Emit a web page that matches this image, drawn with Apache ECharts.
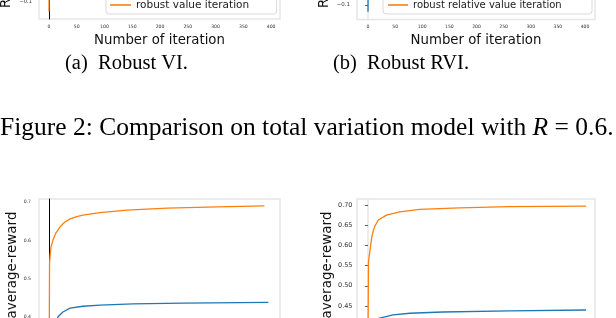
<!DOCTYPE html>
<html><head><meta charset="utf-8">
<script src="https://cdn.jsdelivr.net/npm/echarts@6/dist/echarts.min.js"></script>
<style>html,body{margin:0;padding:0;background:#fff}#c{width:616px;height:318px}</style>
</head><body><div id="c"></div><script>
// ---------- data ----------
const xTickValues = [0, 50, 100, 150, 200, 250, 300, 350, 400];

// (a) Robust VI (top row, only the lowest part is visible)
const topA_iter = [0, 1, 3, 6, 10, 20, 40, 80, 150, 250, 396];
const topA_nonrobust = [0.02, 0.30, 0.50, 0.62, 0.70, 0.78, 0.84, 0.88, 0.90, 0.91, 0.91];
const topA_robust = [-0.124, 0.36, 0.55, 0.66, 0.74, 0.82, 0.88, 0.92, 0.94, 0.95, 0.95];
const topA_yTicks = [-0.1];
const topA_legend = ['non-robust value iteration', 'robust value iteration'];

// (b) Robust RVI (top row)
const topB_iter = [0, 1, 3, 6, 10, 20, 40, 80, 150, 250, 398];
const topB_nonrobust = [-0.117, 0.30, 0.50, 0.62, 0.70, 0.78, 0.84, 0.88, 0.90, 0.91, 0.91];
const topB_robust = [0.02, 0.36, 0.55, 0.66, 0.74, 0.82, 0.88, 0.92, 0.94, 0.95, 0.95];
const topB_yTicks = [-0.1];
const topB_legend = ['non-robust relative value iteration', 'robust relative value iteration'];

// next figure, left panel (average-reward)
const botA_iterRobust = [0, 1, 2, 4, 7, 12, 20, 28, 38, 50, 61, 92, 140, 213, 303, 388];
const botA_robust = [0.20, 0.54, 0.56, 0.585, 0.60, 0.618, 0.635, 0.647, 0.656, 0.662, 0.666, 0.672, 0.679, 0.684, 0.687, 0.690];
const botA_iterNonrobust = [0, 5, 10, 16, 25, 38, 61, 92, 151, 241, 395];
const botA_nonrobust = [0.05, 0.30, 0.37, 0.40, 0.413, 0.423, 0.428, 0.431, 0.434, 0.436, 0.438];
const botA_yTicks = [0.4, 0.5, 0.6, 0.7];

// next figure, right panel (average-reward)
const botB_iterRobust = [0, 1, 3, 5, 7, 10, 13, 19, 34, 58, 95, 168, 259, 400];
const botB_robust = [0.35, 0.56, 0.58, 0.60, 0.62, 0.638, 0.648, 0.663, 0.675, 0.683, 0.689, 0.693, 0.696, 0.697];
const botB_iterNonrobust = [0, 5, 10, 16, 46, 77, 137, 259, 400];
const botB_nonrobust = [0.10, 0.33, 0.39, 0.418, 0.428, 0.432, 0.435, 0.438, 0.440];
const botB_yTicks = [0.45, 0.50, 0.55, 0.60, 0.65, 0.70];

const captionA = ['(a)', 'Robust VI.'];
const captionB = ['(b)', 'Robust RVI.'];
const figCaption = ['Figure 2: Comparison on total variation model with ', 'R', ' = 0.6.'];
const topYName = 'Relative value';
const xName = 'Number of iteration';
const botYName = 'average-reward';

// ---------- chart ----------
const BLUE = '#1f77b4', ORANGE = '#ff7f0e', FRAME = '#e6e6e6';
const SANS = 'DejaVu Sans', SERIF = 'Liberation Serif';
const pairs = (xs, ys) => xs.map((x, i) => [x, ys[i]]);
const minus = v => String(+v.toFixed(2)).replace('-', '\u2212');

function gridCfg(left, top, width, height) {
  return { left, top, width, height, show: true, borderColor: FRAME, borderWidth: 1.5, backgroundColor: '#fff',
    containLabel: false, outerBoundsMode: 'none' };
}
function xAxisCfg(idx, min, max, showLabels) {
  return {
    type: 'value', gridIndex: idx, min, max,
    axisLine: { show: true, lineStyle: { color: FRAME, width: 1.5 } },
    axisTick: { show: false }, splitLine: { show: false },
    axisLabel: { show: showLabels, customValues: xTickValues, margin: 5, fontFamily: SANS, fontSize: 4.6, color: '#333' },
    name: showLabels ? xName : '', nameLocation: 'middle', nameGap: 13,
    nameTextStyle: { fontFamily: SANS, fontSize: 13.3, color: '#111' }
  };
}
function yAxisCfg(idx, min, max, ticks, opts) {
  return {
    type: 'value', gridIndex: idx, min, max,
    axisLine: { show: true, lineStyle: { color: opts.lineColor, width: opts.lineWidth } },
    axisTick: { show: opts.ticks, length: 3, customValues: ticks, lineStyle: { color: '#333', width: 0.8 } },
    splitLine: { show: false },
    axisLabel: { customValues: ticks, margin: opts.margin, fontFamily: SANS, fontSize: opts.fontSize, color: '#333',
      formatter: v => opts.fmt ? opts.fmt(v) : minus(v) },
    name: opts.name || '', nameLocation: 'middle', nameGap: opts.nameGap || 20,
    nameTextStyle: { fontFamily: SANS, fontSize: 13.5, color: '#111' }
  };
}
function lineSeries(name, xi, data, color) {
  return { type: 'line', name, xAxisIndex: xi, yAxisIndex: xi, data, symbol: 'none', clip: true,
    lineStyle: { color, width: 1.3 }, itemStyle: { color } };
}
function legendCfg(left, data, fontSize, padding, itemWidth) {
  return {
    orient: 'vertical', left, top: -20, padding, itemGap: 4, itemWidth, itemHeight: 1.6, icon: 'rect',
    borderColor: '#d9d9d9', borderWidth: 1, borderRadius: 3, backgroundColor: 'rgba(255,255,255,0.85)',
    textStyle: { fontFamily: SANS, fontSize, color: '#1a1a1a', lineHeight: 12 }, data
  };
}

// caption pieces laid out with measured widths
const mctx = document.createElement('canvas').getContext('2d');
const CAP_FS = 25.5;
mctx.font = CAP_FS + 'px "' + SERIF + '"';
const w0 = mctx.measureText(figCaption[0]).width;
mctx.font = 'italic ' + CAP_FS + 'px "' + SERIF + '"';
const w1 = mctx.measureText(figCaption[1]).width;
const CAP_Y = 128;

const chart = echarts.init(document.getElementById('c'), null, { renderer: 'canvas' });
chart.setOption({
  animation: false,
  backgroundColor: '#fff',
  grid: [
    gridCfg(39, -150, 241, 169),
    gridCfg(357, -150, 238, 169.5),
    gridCfg(39, 199, 241, 132),
    gridCfg(357, 199, 238, 132)
  ],
  xAxis: [
    xAxisCfg(0, -18, 416, true),
    xAxisCfg(1, -20.3, 418.4, true),
    xAxisCfg(2, -18, 416, false),
    xAxisCfg(3, -20.1, 416.4, false)
  ],
  yAxis: [
    yAxisCfg(0, -0.1425, 0.28, topA_yTicks, { lineColor: '#000', lineWidth: 1, ticks: false, margin: 7, fontSize: 5.2 }),
    yAxisCfg(1, -0.13625, 0.2875, topB_yTicks, { lineColor: FRAME, lineWidth: 1.5, ticks: true, margin: 7, fontSize: 5.5 }),
    yAxisCfg(2, 0.3634, 0.7078, botA_yTicks, { lineColor: '#000', lineWidth: 1, ticks: false, margin: 8, fontSize: 4.6,
      fmt: v => v.toFixed(1), name: botYName, nameGap: 20 }),
    yAxisCfg(3, 0.388, 0.71485, botB_yTicks, { lineColor: FRAME, lineWidth: 1.5, ticks: true, margin: 4.5, fontSize: 6.5,
      fmt: v => v.toFixed(2), name: botYName, nameGap: 23 })
  ],
  legend: [
    legendCfg(106, topA_legend, 10.5, [3, 4, 3, 4], 21),
    legendCfg(383, topB_legend, 10, [3, 8, 3, 5], 20)
  ],
  series: [
    lineSeries(topA_legend[0], 0, pairs(topA_iter, topA_nonrobust), BLUE),
    lineSeries(topA_legend[1], 0, pairs(topA_iter, topA_robust), ORANGE),
    lineSeries(topB_legend[0], 1, pairs(topB_iter, topB_nonrobust), BLUE),
    lineSeries(topB_legend[1], 1, pairs(topB_iter, topB_robust), ORANGE),
    lineSeries(topA_legend[0], 2, pairs(botA_iterNonrobust, botA_nonrobust), BLUE),
    lineSeries(topA_legend[1], 2, pairs(botA_iterRobust, botA_robust), ORANGE),
    lineSeries(topB_legend[0], 3, pairs(botB_iterNonrobust, botB_nonrobust), BLUE),
    lineSeries(topB_legend[1], 3, pairs(botB_iterRobust, botB_robust), ORANGE)
  ],
  graphic: [
    { type: 'text', x: 12.7, y: 8, rotation: Math.PI / 2,
      style: { text: topYName, fontFamily: SANS, fontSize: 13.3, fill: '#111', align: 'left', verticalAlign: 'bottom' } },
    { type: 'text', x: 331, y: 8, rotation: Math.PI / 2,
      style: { text: topYName, fontFamily: SANS, fontSize: 13.3, fill: '#111', align: 'left', verticalAlign: 'bottom' } },
    { type: 'text', x: 65, y: 64, style: { text: captionA[0], fontFamily: SERIF, fontSize: 20.5, fill: '#000', verticalAlign: 'middle' } },
    { type: 'text', x: 98, y: 64, style: { text: captionA[1], fontFamily: SERIF, fontSize: 20.5, fill: '#000', verticalAlign: 'middle' } },
    { type: 'text', x: 333, y: 64, style: { text: captionB[0], fontFamily: SERIF, fontSize: 20.5, fill: '#000', verticalAlign: 'middle' } },
    { type: 'text', x: 367, y: 64, style: { text: captionB[1], fontFamily: SERIF, fontSize: 20.5, fill: '#000', verticalAlign: 'middle' } },
    { type: 'text', x: 0, y: CAP_Y, style: { text: figCaption[0], fontFamily: SERIF, fontSize: CAP_FS, fill: '#000', verticalAlign: 'middle' } },
    { type: 'text', x: w0, y: CAP_Y, style: { text: figCaption[1], fontFamily: SERIF, fontStyle: 'italic', fontSize: CAP_FS, fill: '#000', verticalAlign: 'middle' } },
    { type: 'text', x: w0 + w1, y: CAP_Y, style: { text: figCaption[2], fontFamily: SERIF, fontSize: CAP_FS, fill: '#000', verticalAlign: 'middle' } }
  ]
});
</script></body></html>
